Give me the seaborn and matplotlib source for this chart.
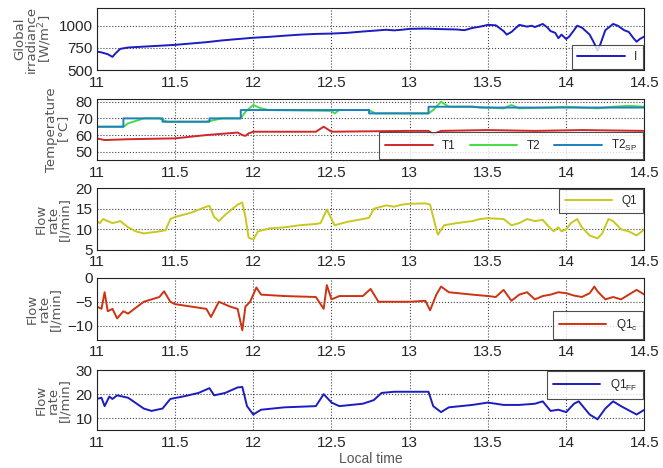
import numpy as np
import pandas as pd
import matplotlib
matplotlib.use("Agg")
import matplotlib.pyplot as plt
import seaborn as sns

# Global irradiance I [W/m2]
t_I = [11.0, 11.03, 11.05, 11.07, 11.1, 11.12, 11.15, 11.2, 11.3, 11.4, 11.5, 11.6, 11.7, 11.8,
       11.9, 12.0, 12.1, 12.2, 12.3, 12.4, 12.5, 12.6, 12.7, 12.8, 12.85, 12.9, 12.95, 13.0,
       13.1, 13.2, 13.3, 13.35, 13.4, 13.45, 13.5, 13.55, 13.6, 13.62, 13.65, 13.7, 13.75,
       13.78, 13.8, 13.85, 13.88, 13.9, 13.93, 13.95, 13.97, 14.0, 14.02, 14.05, 14.07, 14.1,
       14.15, 14.18, 14.2, 14.22, 14.25, 14.3, 14.33, 14.37, 14.4, 14.43, 14.45, 14.47, 14.5]
v_I = [710, 700, 690, 680, 650, 690, 740, 755, 765, 775, 785, 800, 815, 835,
       850, 865, 875, 888, 900, 908, 912, 920, 935, 948, 955, 948, 955, 965,
       968, 962, 958, 950, 975, 990, 1010, 1005, 940, 900, 930, 1010, 990,
       1000, 985, 1020, 980, 940, 920, 860, 900, 850, 880, 950, 1000, 980,
       900, 800, 720, 800, 950, 1020, 1000, 950, 930, 860, 820, 850, 880]

# Temperatures [C]
t_sp = [11.0, 11.17, 11.17, 11.42, 11.42, 11.72, 11.72, 11.92, 11.92, 12.74, 12.74, 13.12,
        13.12, 13.4, 13.45, 14.5]
v_sp = [65, 65, 70, 70, 68, 68, 70, 70, 75, 75, 73, 73, 77, 77, 76.5, 76.5]

t_T2 = [11.0, 11.17, 11.2, 11.3, 11.4, 11.45, 11.7, 11.75, 11.8, 11.92, 11.95, 12.0, 12.05,
        12.1, 12.5, 12.52, 12.55, 12.74, 12.78, 13.12, 13.15, 13.2, 13.25, 13.4, 13.6, 13.65,
        13.7, 13.9, 14.0, 14.2, 14.3, 14.4, 14.5]
v_T2 = [65, 65, 67, 70, 70, 68, 68, 69, 70, 70, 74, 78, 76,
        75, 74.5, 73, 75, 75, 73, 73, 75, 80, 77, 77, 76, 78,
        76, 76.5, 77, 76, 77, 77.5, 77]

t_T1 = [11.0, 11.05, 11.2, 11.5, 11.7, 11.9, 11.93, 11.95, 11.97, 12.0, 12.4, 12.45, 12.5,
        13.0, 13.12, 13.15, 13.2, 13.5, 13.8, 14.1, 14.5]
v_T1 = [58, 57, 57.5, 58, 60, 61.5, 60, 59.5, 61, 62, 62, 65, 62,
        62.5, 62.5, 60.5, 62.5, 63, 62.5, 63, 62.5]

# Flow rates [l/min]
t_Q1 = [11.0, 11.02, 11.04, 11.1, 11.15, 11.2, 11.25, 11.3, 11.4, 11.44, 11.47, 11.5, 11.6,
        11.7, 11.72, 11.75, 11.78, 11.82, 11.9, 11.93, 11.95, 11.97, 12.0, 12.03, 12.1, 12.2,
        12.3, 12.4, 12.43, 12.47, 12.5, 12.52, 12.6, 12.7, 12.74, 12.77, 12.85, 12.9, 12.95,
        13.0, 13.1, 13.13, 13.17, 13.18, 13.22, 13.3, 13.4, 13.45, 13.5, 13.6, 13.65, 13.7,
        13.75, 13.8, 13.85, 13.88, 13.92, 13.95, 13.97, 14.0, 14.03, 14.07, 14.1, 14.15, 14.2,
        14.23, 14.27, 14.3, 14.35, 14.4, 14.45, 14.5]
v_Q1 = [12, 11.5, 12.5, 11.5, 12, 10.5, 9.5, 9, 9.5, 9.8, 12.5, 13, 14,
        15.5, 15.7, 13, 12, 13.5, 16, 16.5, 13, 8, 7.5, 9.5, 10.2, 10.5,
        11, 11.3, 11.5, 14.8, 12.5, 11, 11.8, 12.5, 12.8, 15, 15.8, 15.5, 16,
        16.2, 16.3, 16, 10, 8.7, 11, 11.5, 12, 12.5, 12.7, 12.5, 11, 11.5,
        12.5, 12, 12.3, 11, 9.5, 10.5, 9.5, 10, 11.5, 12.5, 10.5, 8.5, 7.8,
        9, 12.5, 12, 10, 9.5, 8.5, 10]

t_Q1c = [11.0, 11.03, 11.05, 11.07, 11.1, 11.13, 11.17, 11.2, 11.3, 11.4, 11.43, 11.47, 11.5,
         11.6, 11.7, 11.73, 11.78, 11.85, 11.9, 11.93, 11.95, 11.98, 12.02, 12.05, 12.2, 12.4,
         12.45, 12.47, 12.5, 12.55, 12.7, 12.75, 12.8, 13.0, 13.1, 13.13, 13.17, 13.2, 13.25,
         13.4, 13.5, 13.55, 13.6, 13.65, 13.7, 13.75, 13.8, 13.85, 13.9, 13.95, 14.0, 14.05,
         14.1, 14.15, 14.18, 14.2, 14.25, 14.3, 14.35, 14.4, 14.45, 14.5]
v_Q1c = [-6, -6.5, -3, -7, -6.5, -8.5, -7, -7.5, -5, -4, -2.8, -5, -5.5,
         -6, -6.5, -8.2, -5, -6, -6.5, -11, -6, -5, -2, -3.5, -3.8, -4,
         -6.5, -1.5, -4.5, -3.8, -3.8, -2.3, -5, -5, -4.8, -6.8, -3.5, -1.8, -3,
         -3.5, -3.8, -4, -2.5, -4.8, -3.5, -3, -4.5, -3.8, -3.5, -3, -3.2, -3.7,
         -4, -3.2, -1.8, -2.8, -4.5, -4, -4.5, -3.5, -2.5, -3.5]

t_QFF = [11.0, 11.03, 11.05, 11.08, 11.1, 11.13, 11.2, 11.3, 11.35, 11.42, 11.47, 11.55, 11.65,
         11.72, 11.75, 11.82, 11.9, 11.93, 11.96, 12.0, 12.05, 12.2, 12.4, 12.45, 12.5, 12.55,
         12.7, 12.77, 12.82, 12.9, 13.0, 13.12, 13.15, 13.2, 13.25, 13.4, 13.5, 13.6, 13.7,
         13.8, 13.85, 13.9, 13.95, 14.0, 14.05, 14.08, 14.15, 14.2, 14.25, 14.3, 14.35, 14.45,
         14.5]
v_QFF = [18, 18.5, 15, 19, 18, 19.5, 18.5, 14, 13, 14, 18, 19, 20.5,
         22.5, 19.5, 20.5, 22.8, 23, 15, 11.5, 13.5, 14.5, 15, 20, 16.5, 15,
         16, 17.5, 20.5, 21, 21, 21, 15, 12.5, 14.5, 15.5, 16.5, 15.5, 15.5,
         16, 17, 13, 13.5, 12.5, 16, 17, 11.5, 9.5, 14, 17, 15, 11.5,
         13.5]

sns.set_style("white")
plt.rcParams['font.family'] = ['Liberation Sans', 'DejaVu Sans']
plt.rcParams['mathtext.default'] = 'regular'

fig = plt.figure(figsize=(6.63, 4.68), dpi=100)
left, width = 0.146, 0.826
bottoms = [0.850, 0.658, 0.466, 0.274, 0.081]
heights = [0.133, 0.130, 0.132, 0.132, 0.128]
axes = [fig.add_axes([left, b, width, h]) for b, h in zip(bottoms, heights)]

def style_axis(ax, ylim, yticks, ylabel):
    ax.set_xlim(11, 14.5)
    ax.set_ylim(*ylim)
    ax.set_xticks([11, 11.5, 12, 12.5, 13, 13.5, 14, 14.5])
    ax.set_xticklabels(['11', '11.5', '12', '12.5', '13', '13.5', '14', '14.5'])
    ax.set_yticks(yticks)
    ax.tick_params(labelsize=11, length=3, direction='in')
    ax.tick_params(axis='x', pad=4)
    ax.tick_params(axis='y', pad=3)
    ax.grid(True, linestyle=':', color='#444444', linewidth=0.8)
    for s in ax.spines.values():
        s.set_color('#222222')
        s.set_linewidth(0.8)
    ax.set_ylabel(ylabel, fontsize=9.5, color='#555555', linespacing=0.9, labelpad=3,
                  family=['DejaVu Sans'])
    ax.set_xlabel('')

def legend(ax, loc, ncol=1):
    lg = ax.legend(loc=loc, ncol=ncol, fontsize=8.5, frameon=True, fancybox=False,
                   handlelength=4.0, borderaxespad=0.1, columnspacing=1.2,
                   borderpad=0.5)
    lg.get_frame().set_edgecolor('#222222')
    lg.get_frame().set_linewidth(0.8)

ax = axes[0]
sns.lineplot(x=t_I, y=v_I, ax=ax, color='#1c1cc0', linewidth=1.4, label='I')
style_axis(ax, (500, 1200), [500, 750, 1000], 'Global\nirradiance\n[W/m$^2$]')
legend(ax, 'lower right')

ax = axes[1]
sns.lineplot(x=t_T1, y=v_T1, ax=ax, color='#d02828', linewidth=1.4, label='T1')
sns.lineplot(x=t_T2, y=v_T2, ax=ax, color='#44dd44', linewidth=1.4, label='T2')
ax.plot(t_sp, v_sp, color='#1f7fbf', linewidth=1.4, label='T2$_{SP}$')
style_axis(ax, (45, 81.5), [50, 60, 70, 80], 'Temperature\n[$\\degree$C]')
legend(ax, 'lower right', ncol=3)

ax = axes[2]
sns.lineplot(x=t_Q1, y=v_Q1, ax=ax, color='#c8c820', linewidth=1.4, label='Q1')
style_axis(ax, (5, 20), [5, 10, 15, 20], 'Flow\nrate\n[l/min]')
legend(ax, 'upper right')

ax = axes[3]
sns.lineplot(x=t_Q1c, y=v_Q1c, ax=ax, color='#cc3311', linewidth=1.4, label='Q1$_c$')
style_axis(ax, (-13, 0), [-10, -5, 0], 'Flow\nrate\n[l/min]')
legend(ax, 'lower right')

ax = axes[4]
sns.lineplot(x=t_QFF, y=v_QFF, ax=ax, color='#1c1cc0', linewidth=1.4, label='Q1$_{FF}$')
style_axis(ax, (5, 30), [10, 20, 30], 'Flow\nrate\n[l/min]')
legend(ax, 'upper right')
ax.set_xlabel('Local time', fontsize=10, color='#555555', labelpad=2)

fig.align_ylabels(axes)
fig.savefig('out.png', dpi=100)
